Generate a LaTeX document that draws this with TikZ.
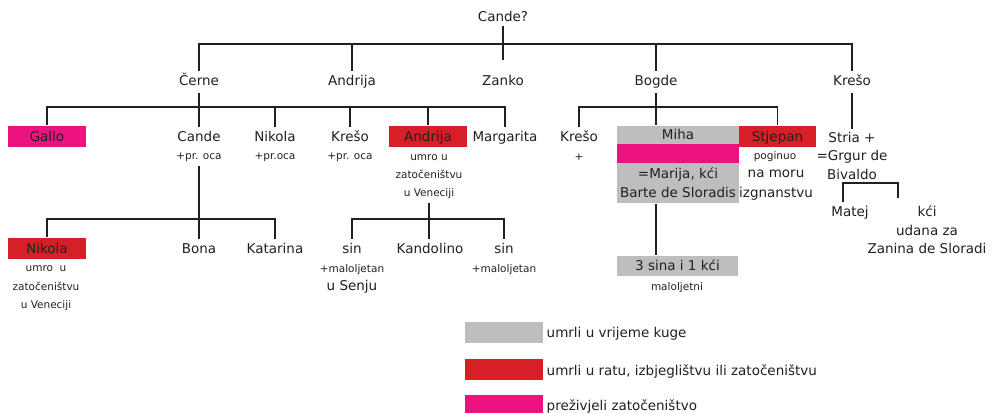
\documentclass[tikz,border=0pt]{standalone}
\usepackage{fontspec}
\setmainfont{DejaVu Sans}
\usepackage{xcolor}
\definecolor{kuga}{HTML}{BEBEBE}
\definecolor{rat}{HTML}{D71F27}
\definecolor{zatoc}{HTML}{EC1380}
\definecolor{ink}{HTML}{231F20}

\begin{document}
\begin{tikzpicture}[x=1pt,y=-1pt,line width=1.4pt,color=ink]
  \tikzstyle{person}=[anchor=base,font=\fontsize{13.5}{18.5}\selectfont,inner xsep=1pt,inner ysep=4pt,text height=10pt,text depth=3pt]
  \tikzstyle{note}=[anchor=base,font=\fontsize{10.5}{18}\selectfont,inner xsep=1pt,inner ysep=3pt,text height=7.5pt,text depth=2.5pt]
  \tikzstyle{lines}=[anchor=north,align=center,inner sep=3pt]
  \tikzstyle{box}=[anchor=center,font=\fontsize{13.5}{19}\selectfont,inner sep=0pt,minimum width=78pt,minimum height=21pt,text height=9.8pt,text depth=0pt]

  \useasboundingbox (0,0) rectangle (992,413);

  \node[person,inner ysep=1pt] (root) at (503,21.5) {Cande?};

  \node[person] (cerne) at (199,85.5) {Černe};
  \node[person] (andrija1) at (352,85.5) {Andrija};
  \node[person] (zanko) at (503,85.5) {Zanko};
  \node[person] (bogde) at (656,85.5) {Bogde};
  \node[person] (kreso1) at (852,85.5) {Krešo};

  \node[box,fill=zatoc] (gallo) at (47,136.5) {Gallo};
  \node[person] (cande) at (199,141.5) {Cande};
  \node[note] (candeN) at (199,159.5) {+pr. oca};
  \node[person] (nikola1) at (275,141.5) {Nikola};
  \node[note] (nikola1N) at (275,159.5) {+pr.oca};
  \node[person] (kreso2) at (350,141.5) {Krešo};
  \node[note] (kreso2N) at (350,159.5) {+pr. oca};
  \node[box,fill=rat] (andrija2) at (428,136.5) {Andrija};
  \node[lines,font=\fontsize{10.5}{18}\selectfont] (andrija2N) at (429,151.3) {umro u\\zatočeništvu\\u Veneciji};
  \node[person] (margarita) at (505,141.5) {Margarita};
  \node[person] (kreso3) at (579,141.5) {Krešo};
  \node[note] (kreso3N) at (579,160.5) {+};
  \node[box,fill=kuga,minimum width=122pt,minimum height=18pt] (miha) at (678,135) {Miha};
  \node[box,fill=zatoc,minimum width=122pt,minimum height=19pt] (mihaP) at (678,153.5) {};
  \node[box,fill=kuga,minimum width=122pt,minimum height=40pt,align=center,text height=,text depth=] (marija) at (678,183) {=Marija, kći\\Barte de Sloradis};
  \node[box,fill=rat,minimum width=77pt] (stjepan) at (777.5,136.5) {Stjepan};
  \node[note] (stjepanN) at (775,159) {poginuo};
  \node[lines,font=\fontsize{13.5}{19.5}\selectfont] (stjepanM) at (776,166.6) {na moru\\izgnanstvu};
  \node[lines,font=\fontsize{13.5}{18.5}\selectfont] (stria) at (852,128.5) {Stria +\\=Grgur de\\Bivaldo};

  \node[box,fill=rat] (nikola2) at (47,248.5) {Nikola};
  \node[lines,font=\fontsize{10.5}{18.5}\selectfont] (nikola2N) at (46,262.3) {umro\ \ u\\zatočeništvu\\u Veneciji};
  \node[person] (bona) at (199,253.5) {Bona};
  \node[person] (katarina) at (275,253.5) {Katarina};
  \node[person] (sin1) at (352,253.5) {sin};
  \node[note] (sin1N) at (352,272.5) {+maloljetan};
  \node[person] (sin1S) at (352,290) {u Senju};
  \node[person] (kandolino) at (430,253.5) {Kandolino};
  \node[person] (sin2) at (504,253.5) {sin};
  \node[note] (sin2N) at (504,272.5) {+maloljetan};
  \node[person] (matej) at (850,216.5) {Matej};
  \node[lines,font=\fontsize{13.5}{18.5}\selectfont] (kci) at (927,202.2) {kći\\udana za\\Zanina de Sloradi};
  \node[box,fill=kuga,minimum width=121pt,minimum height=20pt] (sinovi) at (677.5,266) {3 sina i 1 kći};
  \node[note] (sinoviN) at (677,290.5) {maloljetni};

  \node[box,fill=kuga] (kugaL) at (504,332.5) {};
  \node[box,fill=rat] (ratL) at (504,369.5) {};
  \node[box,fill=zatoc,minimum height=18pt] (zatocL) at (504,404) {};
  \node[person,anchor=base west] (kugaT) at (545,337) {umrli u vrijeme kuge};
  \node[person,anchor=base west] (ratT) at (545,375) {umrli u ratu, izbjeglištvu ili zatočeništvu};
  \node[person,anchor=base west] (zatocT) at (545,410) {preživjeli zatočeništvo};

  \coordinate (top) at (0,44);
  \coordinate (mid) at (0,107);
  \coordinate (low) at (0,219);
  \coordinate (kciJ) at (898,183);

  \draw[shorten >=10.5pt] (root.south) -- (zanko.north);
  \draw (cerne.north) -- (cerne.north |- top) -- (kreso1.north |- top) -- (kreso1.north);
  \draw (andrija1.north) -- (andrija1.north |- top);
  \draw (bogde.north) -- (bogde.north |- top);

  \draw (cerne.south) -- (cerne.south |- mid);
  \draw (gallo.north) -- (gallo.north |- mid) -- (margarita.north |- mid) -- (margarita.north);
  \foreach \n in {cande,nikola1,kreso2,andrija2}
    \draw (\n.north) -- (\n.north |- mid);
  \draw (bogde.south) -- (bogde.south |- miha.north);
  \draw (kreso3.north) -- (kreso3.north |- mid) -- (stjepan.north |- mid) -- (stjepan.north);
  \draw (kreso1.south) -- (kreso1.south |- stria.north);

  \draw (candeN.south) -- (candeN.south |- bona.north);
  \draw (nikola2.north) -- (nikola2.north |- low) -- (katarina.north |- low) -- (katarina.north);
  \draw (andrija2N.south) -- (andrija2N.south |- kandolino.north);
  \draw (sin1.north) -- (sin1.north |- low) -- (sin2.north |- low) -- (sin2.north);
  \draw (marija.south -| bogde.south) -- (sinovi.north -| bogde.south);
  \draw ([xshift=-7pt]matej.north) |- (kciJ) -- ++(0,15);

\end{tikzpicture}
\end{document}
